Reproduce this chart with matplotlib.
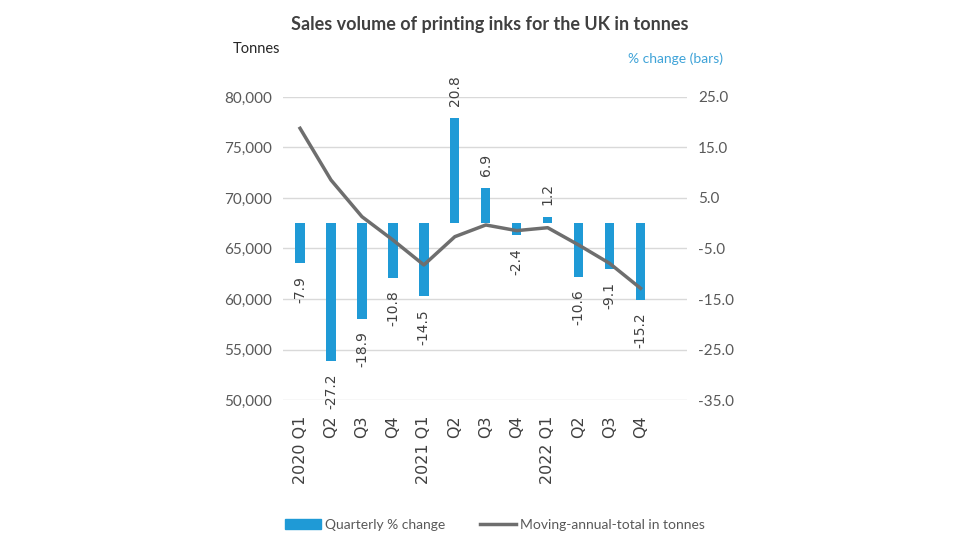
import numpy as np
import matplotlib
matplotlib.use("Agg")
import matplotlib.pyplot as plt
from matplotlib.patches import Patch
from matplotlib.lines import Line2D

# quarters on the x axis
quarters = ["2020 Q1", "Q2", "Q3", "Q4", "2021 Q1", "Q2", "Q3", "Q4",
            "2022 Q1", "Q2", "Q3", "Q4"]
# quarterly % change (bars, right axis)
pct_change = [-7.9, -27.2, -18.9, -10.8, -14.5, 20.8, 6.9, -2.4,
              1.2, -10.6, -9.1, -15.2]
# moving annual total in tonnes (line, left axis)
mat_tonnes = [76900, 71780, 68150, 65840, 63370, 66170, 67330, 66770,
              67060, 65350, 63530, 61060]

left_ticks = [50000, 55000, 60000, 65000, 70000, 75000, 80000]
right_ticks = [-35.0, -25.0, -15.0, -5.0, 5.0, 15.0, 25.0]

BLUE = "#1F9AD6"
GREY_LINE = "#6E6E6E"
TXT = "#595959"

plt.rcParams['font.family'] = ['Lato', 'DejaVu Sans']

fig = plt.figure(figsize=(9.8, 5.6), dpi=100)
ax = fig.add_axes([0.2888, 0.2857, 0.4122, 0.5411])
ax2 = ax.twinx()

x = np.arange(len(quarters))

# bars on the twin axis, kept underneath the line
ax2.bar(x, pct_change, width=0.3, color=BLUE, zorder=2)
ax2.set_ylim(-35, 25)
ax2.set_yticks(right_ticks)
ax2.set_yticklabels(["%.1f" % v for v in right_ticks], color=TXT, fontsize=11)
ax2.grid(axis='y', color="#D9D9D9", linewidth=1, zorder=0)
ax2.set_axisbelow(True)

for xi, v in zip(x, pct_change):
    off = 9 if v > 0 else -9
    ax2.annotate("%.1f" % v, (xi, v), xytext=(0, off), textcoords='offset points',
                 rotation=90, ha='center', va='bottom' if v > 0 else 'top',
                 fontsize=10, color="#404040", family='DejaVu Sans')

ax.set_zorder(ax2.get_zorder() + 1)
ax.patch.set_visible(False)
ax.plot(x, mat_tonnes, color=GREY_LINE, linewidth=2.5, zorder=3)
ax.set_ylim(50000, 80000)
ax.set_yticks(left_ticks)
ax.set_yticklabels(["{:,}".format(v) for v in left_ticks], color=TXT, fontsize=11)
ax.set_xlim(-0.55, 12.5)
ax.set_xticks(x)
ax.set_xticklabels(quarters, rotation=90, fontsize=11.5, color="#404040",
                   family='DejaVu Sans')

for a in (ax, ax2):
    for s in a.spines.values():
        s.set_visible(False)
    a.tick_params(length=0)
ax.tick_params(axis='x', pad=11)
ax.tick_params(axis='y', pad=8)
ax2.tick_params(axis='y', pad=8)

fig.text(0.5, 0.957, "Sales volume of printing inks for the UK in tonnes",
         ha='center', va='center', fontsize=13, fontweight='bold', color="#404040")
fig.text(0.238, 0.912, "Tonnes", ha='left', va='center', fontsize=10.5, color="#262626")
fig.text(0.738, 0.895, "% change (bars)", ha='right', va='center', fontsize=10,
         color="#3FA3D8")

handles = [Patch(color=BLUE, label="Quarterly % change"),
           Line2D([0], [0], color=GREY_LINE, linewidth=2.5,
                  label="Moving-annual-total in tonnes")]
fig.legend(handles=handles, loc='center', bbox_to_anchor=(0.505, 0.0625), ncol=2,
           frameon=False, fontsize=10, handlelength=2.6, handletextpad=0.3,
           columnspacing=2.5, labelcolor=TXT)

fig.savefig("out.png", dpi=100)
